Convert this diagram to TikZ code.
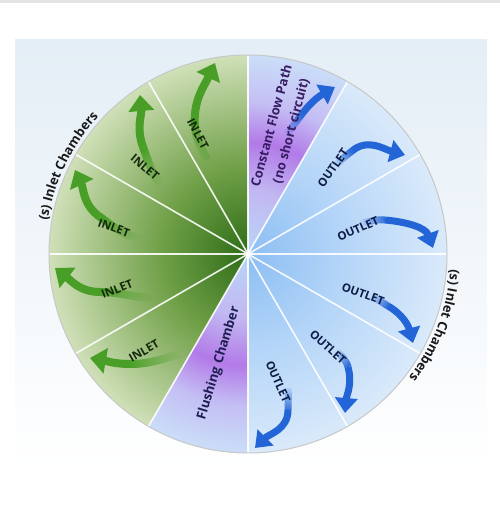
\documentclass[tikz,border=0pt]{standalone}
\usepackage{fontspec}
\setmainfont{Open Sans}
\usetikzlibrary{arrows.meta,fadings,decorations.text,calc}

\definecolor{gA}{RGB}{45,108,22}
\definecolor{gB}{RGB}{112,160,72}
\definecolor{gC}{RGB}{208,224,184}
\definecolor{bA}{RGB}{140,190,242}
\definecolor{bB}{RGB}{180,213,248}
\definecolor{bC}{RGB}{218,234,250}
\definecolor{pA}{RGB}{184,214,246}
\definecolor{pB}{RGB}{194,184,242}
\definecolor{pC}{RGB}{178,122,232}
\definecolor{pD}{RGB}{196,190,244}
\definecolor{pE}{RGB}{202,222,248}
\definecolor{garrow}{RGB}{72,158,38}
\definecolor{barrow}{RGB}{35,100,215}
\definecolor{inc}{RGB}{22,40,12}
\definecolor{outc}{RGB}{14,28,70}
\definecolor{cfc}{RGB}{55,30,100}
\definecolor{flc}{RGB}{28,30,80}
\definecolor{labc}{RGB}{26,26,26}
\definecolor{bgtop}{RGB}{228,238,246}
\definecolor{bgmid}{RGB}{243,247,250}

\pgfdeclareradialshading{greenrad}{\pgfpoint{0bp}{0bp}}{color(0bp)=(gA); color(11bp)=(gB); color(25bp)=(gC); color(50bp)=(gC)}
\pgfdeclareradialshading{bluerad}{\pgfpoint{0bp}{0bp}}{color(0bp)=(bA); color(12bp)=(bB); color(25bp)=(bC); color(50bp)=(bC)}
\pgfdeclareradialshading{purprad}{\pgfpoint{0bp}{0bp}}{color(0bp)=(pA); color(8bp)=(pB); color(14bp)=(pC); color(19bp)=(pD); color(25bp)=(pE); color(50bp)=(pE)}

\tikzfading[name=tailfade, left color=transparent!100, right color=transparent!0]

\tikzset{
  inhead/.style={draw=garrow, line width=8pt, -{Triangle[width=25pt,length=16pt]}},
  intail/.style={draw=garrow, line width=8pt, path fading=tailfade},
  outhead/.style={draw=barrow, line width=7pt, -{Triangle[width=22pt,length=15pt]}},
  outtail/.style={draw=barrow, line width=7pt, path fading=tailfade},
  lbl/.style={font=\bfseries\fontsize{11.5}{13}\selectfont, inner sep=0pt},
  biglbl/.style={font=\bfseries\fontsize{13}{20}\selectfont, inner sep=0pt},
  inlbl/.style={lbl, text=inc},
  outlbl/.style={lbl, text=outc},
  sep/.style={draw=white, opacity=0.9, line width=1.6pt},
  rimlbl/.style={decorate, decoration={text along path, text align=center, text color=labc,
     text={|\bfseries\fontsize{13}{15}\selectfont|(s) Inlet Chambers}}}
}

\begin{document}
\begin{tikzpicture}[x=1pt,y=1pt]
\useasboundingbox (0,0) rectangle (500,522);
% background
\fill[gray!22] (0,519) rectangle (500,522);
\shade[top color=bgtop, middle color=bgmid, bottom color=white] (15,52) rectangle (487,482);

\coordinate (C) at (248,268);

% sectors
\begin{scope}
  \clip (C) -- ++(90:199) arc[start angle=90, end angle=240, radius=199] -- cycle;
  \shade[shading=greenrad] (C) circle (199);
\end{scope}
\begin{scope}
  \clip (C) -- ++(-90:199) arc[start angle=-90, end angle=60, radius=199] -- cycle;
  \shade[shading=bluerad] (C) circle (199);
\end{scope}
\begin{scope}
  \clip (C) -- ++(60:199) arc[start angle=60, end angle=90, radius=199] -- cycle
        (C) -- ++(240:199) arc[start angle=240, end angle=270, radius=199] -- cycle;
  \shade[shading=purprad] (C) circle (199);
\end{scope}

% separators
\foreach \a in {0,30,...,330} \draw[sep] (C) -- ++(\a:199);
\draw[black!22, line width=1pt] (C) circle (199);

% arrow points: tail, middle, head
\coordinate (g1t) at (207,362); \coordinate (g1m) at (195,395); \coordinate (g1h) at (215,459);
\coordinate (g2t) at (161,336); \coordinate (g2m) at (143,375); \coordinate (g2h) at (140,427);
\coordinate (g3t) at (142,283); \coordinate (g3m) at (100,305); \coordinate (g3h) at (75,352);
\coordinate (g4t) at (152,224); \coordinate (g4m) at (100,230); \coordinate (g4h) at (55,254);
\coordinate (g5t) at (180,168); \coordinate (g5m) at (130,158); \coordinate (g5h) at (90,164);
\coordinate (b6t) at (286,386); \coordinate (b6m) at (302,408); \coordinate (b6h) at (335,435);
\coordinate (b7t) at (336,356); \coordinate (b7m) at (352,371); \coordinate (b7h) at (405,367);
\coordinate (b8t) at (362,299); \coordinate (b8m) at (385,302); \coordinate (b8h) at (433,274);
\coordinate (b9t) at (370,225); \coordinate (b9m) at (388,216); \coordinate (b9h) at (413,179);
\coordinate (b10t) at (336,172); \coordinate (b10m) at (348,155); \coordinate (b10h) at (345,109);
\coordinate (b11t) at (288,134); \coordinate (b11m) at (288,112); \coordinate (b11h) at (255,74);

% inlet arrows
\draw[intail, fading angle=70] (g1t) to[out=115, in=275] (g1m);
\draw[inhead] (g1m) to[out=95, in=245] (g1h);
\draw[intail, fading angle=115] (g2t) to[out=125, in=290] (g2m);
\draw[inhead] (g2m) to[out=110, in=275] (g2h);
\draw[intail, fading angle=152] (g3t) to[out=170, in=325] (g3m);
\draw[inhead] (g3m) to[out=145, in=295] (g3h);
\draw[intail, fading angle=173] (g4t) to[out=178, in=0] (g4m);
\draw[inhead] (g4m) to[out=180, in=322] (g4h);
\draw[intail, fading angle=191] (g5t) to[out=195, in=0] (g5m);
\draw[inhead] (g5m) to[out=180, in=350] (g5h);

% outlet arrows
\draw[outtail, fading angle=54] (b6t) to[out=58, in=233] (b6m);
\draw[outhead] (b6m) to[out=53, in=210] (b6h);
\draw[outtail, fading angle=43] (b7t) to[out=55, in=220] (b7m);
\draw[outhead] (b7m) to[out=40, in=165] (b7h);
\draw[outtail, fading angle=7] (b8t) to[out=10, in=175] (b8m);
\draw[outhead] (b8m) to[out=-5, in=110] (b8h);
\draw[outtail, fading angle=-27] (b9t) to[out=-10, in=150] (b9m);
\draw[outhead] (b9m) to[out=-30, in=105] (b9h);
\draw[outtail, fading angle=-55] (b10t) to[out=-50, in=105] (b10m);
\draw[outhead] (b10m) to[out=-75, in=85] (b10h);
\draw[outtail, fading angle=-90] (b11t) to[out=-85, in=90] (b11m);
\draw[outhead] (b11m) to[out=-90, in=45] (b11h);

% labels
\node[inlbl, rotate=-62] (i1) at (198,388) {INLET};
\node[inlbl, rotate=-40] (i2) at (145,355) {INLET};
\node[inlbl, rotate=-20] (i3) at (114,294) {INLET};
\node[inlbl, rotate=22] (i4) at (117,233) {INLET};
\node[inlbl, rotate=30] (i5) at (144,171) {INLET};

\node[outlbl, rotate=55] (o7) at (333,354) {OUTLET};
\node[outlbl, rotate=24] (o8) at (358,293) {OUTLET};
\node[outlbl, rotate=-20] (o9) at (363,228) {OUTLET};
\node[outlbl, rotate=-42] (o10) at (328,175) {OUTLET};
\node[outlbl, rotate=-66] (o11) at (278,140) {OUTLET};

\node[biglbl, text=cfc, align=center, rotate=75] (cf) at ($(C)+(75:130)$) {Constant Flow Path\\(no short circuit)};
\node[biglbl, text=flc, rotate=73] (fl) at ($(C)+(255:113)$) {Flushing Chamber};

% rim labels
\coordinate (la) at ($(C)+(177:203)$);
\coordinate (ra) at ($(C)+(1:203)$);
\path[rimlbl] (la) arc[start angle=177, end angle=131, radius=203];
\path[rimlbl] (ra) arc[start angle=1, end angle=-43, radius=203];
\end{tikzpicture}
\end{document}
